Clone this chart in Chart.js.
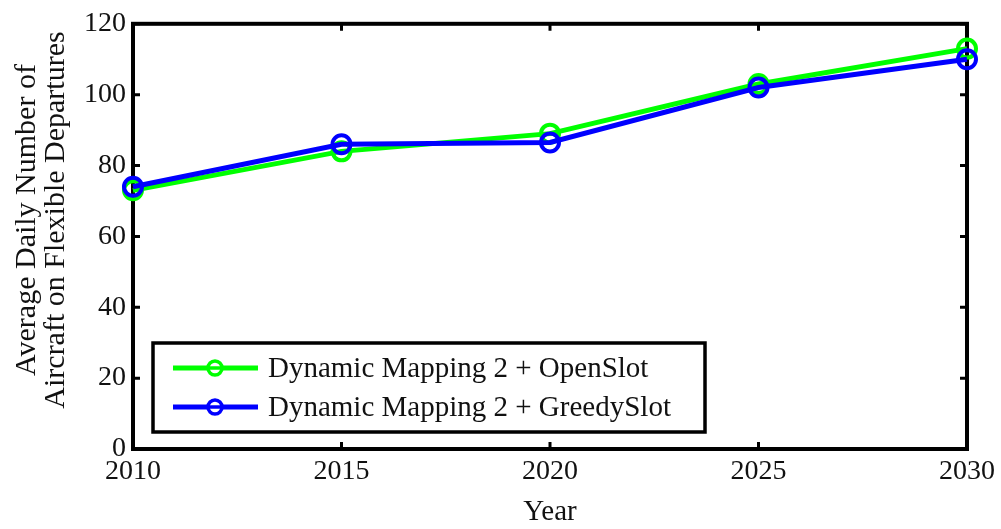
<!DOCTYPE html>
<html>
<head>
<meta charset="utf-8">
<script src="https://cdn.jsdelivr.net/npm/chart.js@4"></script>
<style>
  html, body { margin: 0; padding: 0; background: #fff; }
</style>
</head>
<body>
<canvas id="chart" width="1001" height="529"></canvas>
<script>
// data
const years = ["2010", "2015", "2020", "2025", "2030"];
const openSlot = [73, 84, 89, 103, 113];
const greedySlot = [74, 86, 86.5, 102, 110];
const seriesNames = ["Dynamic Mapping 2 + OpenSlot", "Dynamic Mapping 2 + GreedySlot"];
const seriesColors = ["#00ff00", "#0000ff"];
const xTitle = "Year";
const yTitle = ["Average Daily Number of", "Aircraft on Flexible Departures"];

const FONT = "'Liberation Serif', 'Times New Roman', serif";

// box around the plot + inward ticks on all four sides
const framePlugin = {
  id: "frame",
  beforeDatasetsDraw(chart) {
    const { ctx, chartArea: a, scales } = chart;
    ctx.save();
    ctx.strokeStyle = "#000";
    ctx.lineWidth = 3;
    const len = 7;
    scales.x.ticks.forEach((t, i) => {
      const x = scales.x.getPixelForTick(i);
      ctx.beginPath();
      ctx.moveTo(x, a.bottom); ctx.lineTo(x, a.bottom - len);
      ctx.moveTo(x, a.top); ctx.lineTo(x, a.top + len);
      ctx.stroke();
    });
    scales.y.ticks.forEach((t) => {
      const y = scales.y.getPixelForValue(t.value);
      ctx.beginPath();
      ctx.moveTo(a.left, y); ctx.lineTo(a.left + len, y);
      ctx.moveTo(a.right, y); ctx.lineTo(a.right - len, y);
      ctx.stroke();
    });
    ctx.lineWidth = 4;
    ctx.strokeRect(a.left, a.top, a.right - a.left, a.bottom - a.top);
    ctx.restore();
  },
  afterDraw(chart) {
    const { ctx, chartArea: a } = chart;
    ctx.save();
    // axis titles
    ctx.fillStyle = "#111";
    ctx.textAlign = "center";
    ctx.textBaseline = "middle";
    ctx.font = "29px " + FONT;
    ctx.fillText(xTitle, (a.left + a.right) / 2, 512);
    ctx.save();
    ctx.translate(27, 220);
    ctx.rotate(-Math.PI / 2);
    ctx.font = "30px " + FONT;
    ctx.fillText(yTitle[0], 0, 0);
    ctx.fillText(yTitle[1], 0, 29);
    ctx.restore();

    // legend box
    const bx = a.left + 20, by = 343, bw = 552, bh = 89;
    ctx.fillStyle = "#fff";
    ctx.fillRect(bx, by, bw, bh);
    ctx.strokeStyle = "#000";
    ctx.lineWidth = 3.5;
    ctx.strokeRect(bx, by, bw, bh);
    seriesNames.forEach((name, i) => {
      const y = by + 25 + i * 39;
      ctx.strokeStyle = seriesColors[i];
      ctx.lineWidth = 5;
      ctx.beginPath();
      ctx.moveTo(bx + 20, y); ctx.lineTo(bx + 105, y);
      ctx.stroke();
      ctx.lineWidth = 3.5;
      ctx.beginPath();
      ctx.arc(bx + 62, y, 7, 0, Math.PI * 2);
      ctx.fillStyle = "#fff";
      ctx.fill();
      ctx.stroke();
      ctx.beginPath();
      ctx.moveTo(bx + 56, y); ctx.lineTo(bx + 68, y);
      ctx.stroke();
      ctx.fillStyle = "#111";
      ctx.textAlign = "left";
      ctx.font = "29px " + FONT;
      ctx.fillText(name, bx + 115, y + 1);
    });
    ctx.restore();
  }
};

const ctx = document.getElementById("chart").getContext("2d");
new Chart(ctx, {
  type: "line",
  data: {
    labels: years,
    datasets: [
      {
        label: seriesNames[0],
        data: openSlot,
        borderColor: seriesColors[0],
        backgroundColor: "rgba(0,0,0,0)",
        borderWidth: 5,
        pointRadius: 9,
        pointBorderWidth: 4,
        pointBackgroundColor: "rgba(0,0,0,0)",
        fill: false,
        tension: 0,
        clip: false,
        order: 2,
      },
      {
        label: seriesNames[1],
        data: greedySlot,
        borderColor: seriesColors[1],
        backgroundColor: "rgba(0,0,0,0)",
        borderWidth: 5,
        pointRadius: 9,
        pointBorderWidth: 4,
        pointBackgroundColor: "rgba(0,0,0,0)",
        fill: false,
        tension: 0,
        clip: false,
        order: 1,
      },
    ],
  },
  options: {
    responsive: false,
    animation: false,
    events: [],
    layout: { padding: { left: 0, top: 18, right: 34, bottom: 0 } },
    plugins: {
      legend: { display: false },
      tooltip: { enabled: false },
    },
    scales: {
      x: {
        grid: { display: false, drawTicks: false },
        border: { display: false },
        ticks: {
          color: "#111",
          font: { family: FONT, size: 28 },
          padding: 6,
          maxRotation: 0,
          autoSkip: false,
        },
        afterFit(s) { s.height = 80; },
      },
      y: {
        min: 0,
        max: 120,
        grid: { display: false, drawTicks: false },
        border: { display: false },
        ticks: {
          stepSize: 20,
          color: "#111",
          font: { family: FONT, size: 28 },
          padding: 7,
        },
        afterFit(s) { s.width = 133; },
      },
    },
  },
  plugins: [framePlugin],
});
</script>
</body>
</html>
